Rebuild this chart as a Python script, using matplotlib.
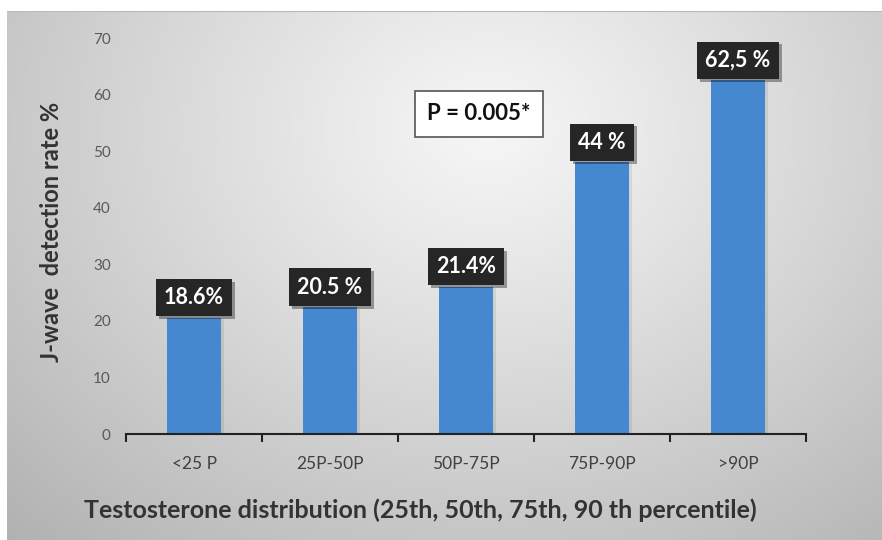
import numpy as np
import matplotlib
matplotlib.use("Agg")
import matplotlib.pyplot as plt
from matplotlib import patheffects as pe

categories = ["<25 P", "25P-50P", "50P-75P", "75P-90P", ">90P"]
bar_values = [20.5, 22.4, 26.0, 48.0, 62.5]
label_texts = ["18.6%", "20.5 %", "21.4%", "44 %", "62,5 %"]
y_ticks = [0, 10, 20, 30, 40, 50, 60, 70]
p_text = "P = 0.005*"
x_title = "Testosterone distribution (25th, 50th, 75th, 90 th percentile)"
y_title = "J-wave  detection rate %"

FONT = "Lato"
W, H = 882, 540
fig = plt.figure(figsize=(W / 100, H / 100), dpi=100)
fig.patch.set_facecolor("white")

# gradient background panel
bg = fig.add_axes([7 / W, 0, (W - 7) / W, (H - 11) / H])
bg.set_axis_off()
ny, nx = 300, 500
yy, xx = np.mgrid[0:ny, 0:nx]
cx, cy = 0.55 * nx, 0.22 * ny
d = np.sqrt(((xx - cx) / nx) ** 2 + ((yy - cy) / ny * 0.75) ** 2)
d = d / d.max()
g = 0.965 - 0.27 * d ** 1.1
img = np.dstack([g, g, g])
bg.imshow(img, aspect="auto", extent=[0, 1, 0, 1], origin="upper")
bg.set_xlim(0, 1)
bg.set_ylim(0, 1)
bg.plot([0, 1], [1, 1], color="#b8b8b8", lw=1.5, transform=bg.transAxes)

ax = fig.add_axes([126 / W, (H - 434) / H, (806 - 126) / W, (434 - 38) / H])
ax.patch.set_alpha(0)
x = np.arange(len(categories))
bars = ax.bar(x, bar_values, width=0.4, color="#4688CF", zorder=2)
for b in bars:
    b.set_path_effects([pe.withSimplePatchShadow(offset=(2, -1), shadow_rgbFace="#000000", alpha=0.08), pe.Normal()])

ax.set_xlim(-0.5, len(categories) - 0.5)
ax.set_ylim(0, 70)
ax.set_yticks(y_ticks)
ax.set_yticklabels([str(v) for v in y_ticks], fontsize=11, color="#595959", family=FONT)
ax.tick_params(axis="y", length=0, pad=11)

ax.set_xticks(np.arange(-0.5, len(categories)), minor=False)
ax.set_xticklabels([""] * (len(categories) + 1))
ax.tick_params(axis="x", which="major", direction="out", length=6, width=1.5, color="#222222")
ax.set_xticks(x, minor=True)
ax.set_xticklabels(categories, minor=True, fontsize=12.5, color="#404040", family=FONT)
ax.tick_params(axis="x", which="minor", length=0, pad=16)

for s in ["top", "right", "left"]:
    ax.spines[s].set_visible(False)
ax.spines["bottom"].set_color("#222222")
ax.spines["bottom"].set_linewidth(1.5)

for xi, v, t in zip(x, bar_values, label_texts):
    txt = ax.annotate(t, (xi, v), xytext=(0, 7), textcoords="offset points",
                      ha="center", va="bottom", fontsize=15.5, fontweight="bold",
                      color="white", family=FONT, zorder=5,
                      bbox=dict(boxstyle="square,pad=0.38", fc="#262626", ec="none"))
    txt.get_bbox_patch().set_path_effects([pe.withSimplePatchShadow(offset=(2, -2), shadow_rgbFace="#000000", alpha=0.35), pe.Normal()])

ax.text(2.096, 56.6, p_text, ha="center", va="center", fontsize=16, fontweight="bold",
        color="#111111", family=FONT, zorder=5,
        bbox=dict(boxstyle="square,pad=0.55", fc="white", ec="#555555", lw=1.2))

fig.text(420 / W, 1 - 510 / H, x_title, ha="center", va="center", fontsize=18,
         fontweight="bold", color="#333333", family=FONT)
fig.text(52 / W, 1 - 232 / H, y_title, ha="center", va="center", rotation=90,
         fontsize=17, fontweight="bold", color="#333333", family=FONT)

fig.savefig("out.png", dpi=100)
